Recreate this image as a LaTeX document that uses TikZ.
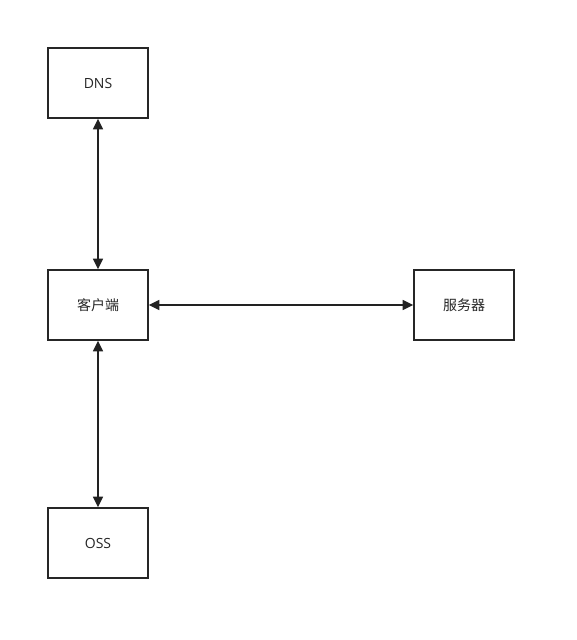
\documentclass[tikz,border=0pt]{standalone}
\usepackage{fontspec}
\setmainfont{Open Sans}
\newfontfamily\cjk{Noto Sans CJK SC}
\usetikzlibrary{arrows.meta}
\definecolor{linec}{HTML}{222222}
\begin{document}
\begin{tikzpicture}[x=0.75pt,y=-0.75pt,
  box/.style={draw=black!85,line width=1.1pt,minimum width=75pt,minimum height=52.5pt,inner sep=0pt,font=\fontsize{10.5}{12}\selectfont,text=black!85,fill=white},
  conn/.style={draw=linec,line width=1.1pt,{Triangle[length=8pt,width=7.5pt]}-{Triangle[length=8pt,width=7.5pt]}}]
\useasboundingbox (0,0) rectangle (576,640);
\node[box] (dns) at (98,83) {DNS};
\node[box] (cli) at (98,305) {\cjk 客户端};
\node[box] (srv) at (464,305) {\cjk 服务器};
\node[box] (oss) at (98,543) {OSS};
\draw[conn] (dns) -- (cli);
\draw[conn] (cli) -- (srv);
\draw[conn] (cli) -- (oss);
\end{tikzpicture}
\end{document}
